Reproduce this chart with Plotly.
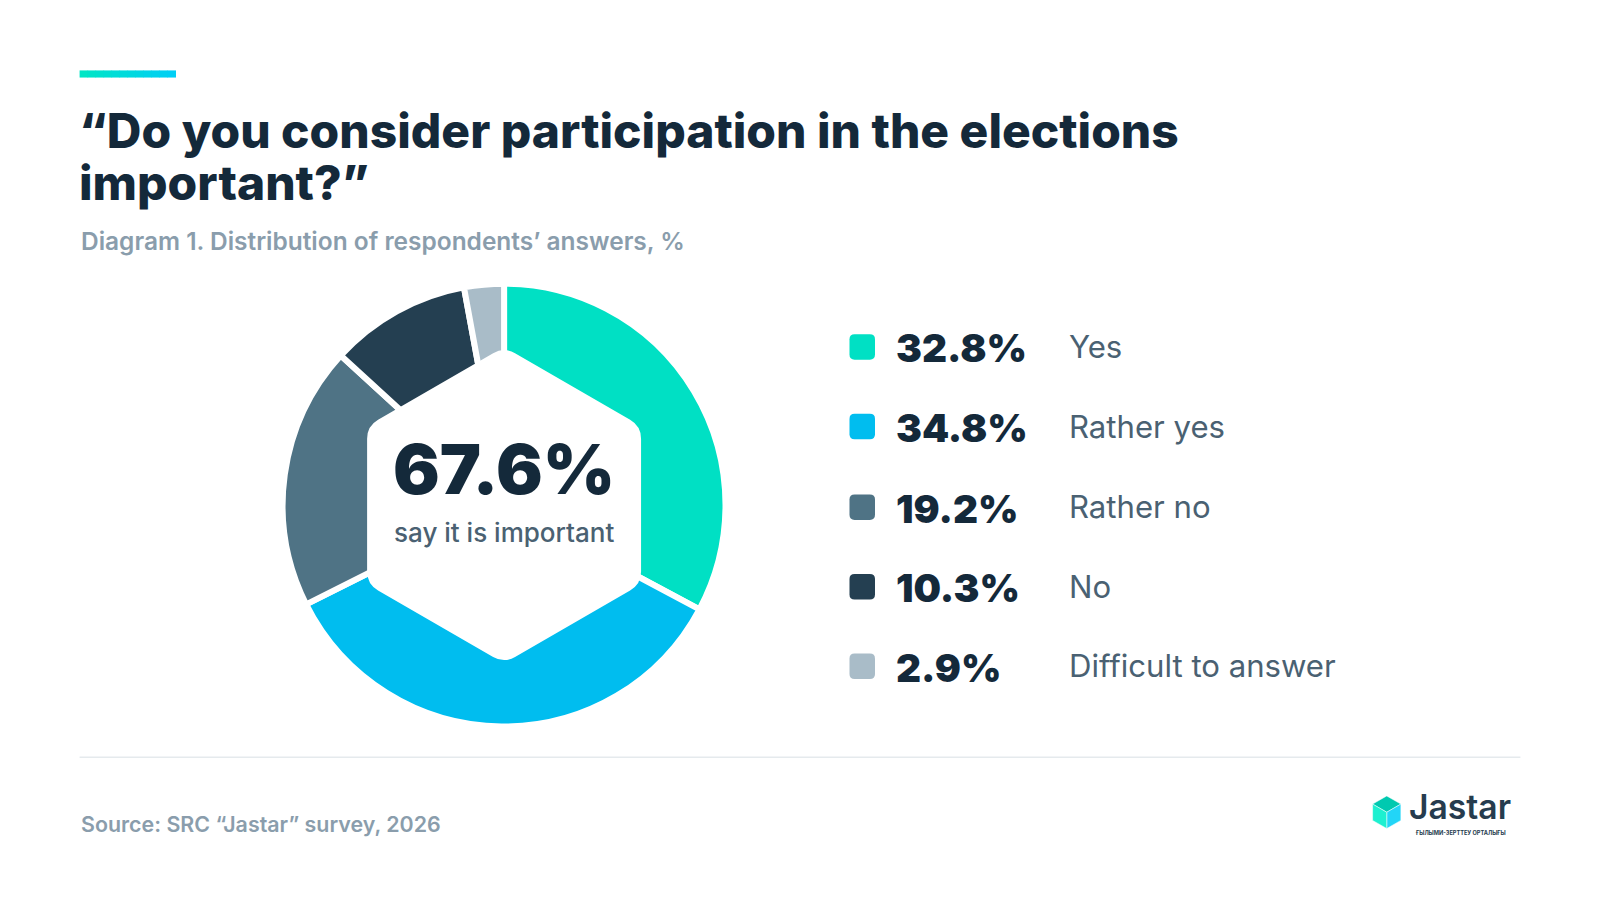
import numpy as np
import plotly.graph_objects as go

# page body has an 8px margin, so the figure is sized to fit the 1600x900 window
OFF = 8
W, H = 1600 - 2 * OFF, 900 - 2 * OFF
S = 0.98  # positions below are measured on a 1568-wide view of the reference

# data
categories = ["Yes", "Rather yes", "Rather no", "No", "Difficult to answer"]
values = [32.8, 34.8, 19.2, 10.3, 2.9]
colors = ["#00E0C4", "#00BDEF", "#4F7385", "#243F51", "#A9BCC8"]
important_share = 67.6

title_lines = ["“Do you consider participation in the elections", "important?”"]
subtitle = "Diagram 1. Distribution of respondents’ answers, %"
source = "Source: SRC “Jastar” survey, 2026"

DARK = "#14293A"
GREY = "#8A9DAC"
LABEL = "#4A6172"


def px(x):
    return (x / S - OFF) / W


def py(y):
    return 1 - (y / S - OFF) / H


def fs(size):
    return size / S


# donut geometry (view pixels)
cx, cy, R = 494, 495, 217
hex_r = 155

fig = go.Figure()
fig.add_trace(go.Pie(
    labels=categories, values=values, sort=False, direction="clockwise",
    rotation=0, hole=0.45,
    marker=dict(colors=colors, line=dict(color="white", width=6)),
    textinfo="none", hoverinfo="label+value", showlegend=False,
    domain=dict(x=[px(cx - R), px(cx + R)], y=[py(cy + R), py(cy - R)]),
))

shapes = []

# hexagonal hole (pointy top), slightly rounded corners
pts = []
for k in range(6):
    a = np.deg2rad(90 - 60 * k)
    pts.append((cx + hex_r * np.cos(a), cy - hex_r * np.sin(a)))
path = ""
t = 0.08
for i in range(6):
    p0 = np.array(pts[i - 1])
    p1 = np.array(pts[i])
    p2 = np.array(pts[(i + 1) % 6])
    a1 = p1 + (p0 - p1) * t
    b1 = p1 + (p2 - p1) * t
    path += ("M" if i == 0 else "L") + f"{px(a1[0]):.5f},{py(a1[1]):.5f} "
    path += f"Q{px(p1[0]):.5f},{py(p1[1]):.5f} {px(b1[0]):.5f},{py(b1[1]):.5f} "
path += "Z"
shapes.append(dict(type="path", xref="paper", yref="paper", path=path,
                   fillcolor="white", line=dict(width=0)))

# accent bar on top (teal -> cyan)
n = 12
c0 = np.array([0x00, 0xE6, 0xC6])
c1 = np.array([0x00, 0xCF, 0xF5])
x0b, x1b = 78, 172
for i in range(n):
    c = (c0 + (c1 - c0) * i / (n - 1)).astype(int)
    shapes.append(dict(type="rect", xref="paper", yref="paper",
                       x0=px(x0b + (x1b - x0b) * i / n), x1=px(x0b + (x1b - x0b) * (i + 1) / n + 0.5),
                       y0=py(76), y1=py(69),
                       fillcolor=f"rgb({c[0]},{c[1]},{c[2]})", line=dict(width=0)))

# separator line
shapes.append(dict(type="line", xref="paper", yref="paper", x0=px(78), x1=px(1490),
                   y0=py(742), y1=py(742), line=dict(color="#E5EAED", width=1.5)))

annotations = []


def text(x, y, s, size, color, weight=400, xanchor="left", yanchor="middle", family="Inter"):
    annotations.append(dict(x=px(x), y=py(y), xref="paper", yref="paper", text=s,
                            showarrow=False, xanchor=xanchor, yanchor=yanchor,
                            font=dict(size=fs(size), color=color, family=family, weight=weight)))


# title block
text(75, 128, title_lines[0], 47, DARK, 800)
text(75, 179, title_lines[1], 47, DARK, 800)
text(77, 236, subtitle, 24, GREY, 600)

# centre label
text(cx, 460, f"{important_share}%", 68, DARK, 900, xanchor="center")
text(cx, 522, "say it is important", 25.5, LABEL, 500, xanchor="center")

# legend rows
row_y = [340, 418, 497, 575, 653]
for cat, val, col, yy in zip(categories, values, colors, row_y):
    s = 12.5
    r = 5
    xm = 845
    shapes.append(dict(type="path", xref="paper", yref="paper",
                       path=(f"M{px(xm - s + r)},{py(yy - s)} L{px(xm + s - r)},{py(yy - s)} "
                             f"Q{px(xm + s)},{py(yy - s)} {px(xm + s)},{py(yy - s + r)} "
                             f"L{px(xm + s)},{py(yy + s - r)} Q{px(xm + s)},{py(yy + s)} {px(xm + s - r)},{py(yy + s)} "
                             f"L{px(xm - s + r)},{py(yy + s)} Q{px(xm - s)},{py(yy + s)} {px(xm - s)},{py(yy + s - r)} "
                             f"L{px(xm - s)},{py(yy - s + r)} Q{px(xm - s)},{py(yy - s)} {px(xm - s + r)},{py(yy - s)} Z"),
                       fillcolor=col, line=dict(width=0)))
    text(876, yy + 1, f"{val}%", 38, DARK, 900)
    text(1046, yy, cat, 30.5, LABEL, 400)

# source
text(77, 808, source, 21, GREY, 600)

# logo
lx, ly, lr = 1359, 796, 16
hexp = [(lx + lr * np.cos(np.deg2rad(90 - 60 * k)), ly - lr * np.sin(np.deg2rad(90 - 60 * k))) for k in range(6)]
faces = [
    ([(lx, ly), hexp[5], hexp[0], hexp[1]], "#00C9B0"),
    ([(lx, ly), hexp[1], hexp[2], hexp[3]], "#22D5F7"),
    ([(lx, ly), hexp[3], hexp[4], hexp[5]], "#1DF0D0"),
]
for poly, col in faces:
    p = "M" + " L".join(f"{px(a)},{py(b)}" for a, b in poly) + " Z"
    shapes.append(dict(type="path", xref="paper", yref="paper", path=p,
                       fillcolor=col, line=dict(color="white", width=0.5)))
text(1379, 790, "Jastar", 33, "#263C4E", 600)
text(1385, 816, "ҒЫЛЫМИ-ЗЕРТТЕУ ОРТАЛЫҒЫ", 5.5, "#263C4E", 700)

fig.update_layout(
    width=W, height=H,
    margin=dict(l=0, r=0, t=0, b=0),
    paper_bgcolor="white", plot_bgcolor="white",
    shapes=shapes, annotations=annotations,
    showlegend=False,
)

fig.write_html("out.html")
